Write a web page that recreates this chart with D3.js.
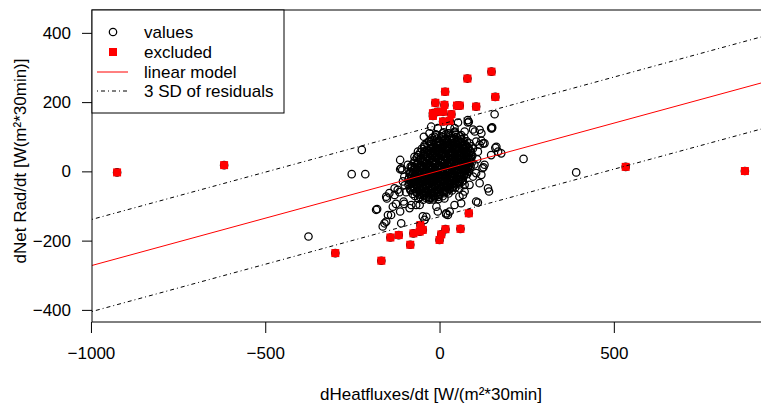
<!DOCTYPE html>
<html>
<head>
<meta charset="utf-8">
<script src="https://cdn.jsdelivr.net/npm/d3@7"></script>
<style>
body { margin: 0; background: #fff; }
svg { display: block; font-family: "Liberation Sans", Arial, Helvetica, sans-serif; }
</style>
</head>
<body>
<script>
// points as [dHeatfluxes/dt, dNetRad/dt]
// dense middle of the cloud
var corePoints = [
  [12,113],[27,110],[44,115],
  [-9,105],[5,101],[18,107],[34,103],[46,106],[59,101],
  [-21,97],[-7,95],[9,98],[20,94],[36,96],[49,99],[62,93],[71,97],
  [-31,87],[-15,90],[-2,86],[12,89],[23,87],[39,90],[51,86],[67,89],[78,87],
  [-37,81],[-25,79],[-9,82],[3,78],[18,81],[30,80],[45,77],[57,82],[73,79],[86,81],
  [-44,71],[-32,74],[-17,70],[-5,73],[11,72],[22,69],[38,74],[50,71],[65,73],[77,70],[92,72],
  [-51,65],[-36,62],[-25,66],[-10,63],[2,65],[17,62],[29,66],[44,64],[56,61],[71,65],[82,63],[96,66],
  [-55,55],[-44,58],[-29,54],[-18,57],[-2,56],[9,53],[25,58],[36,55],[51,57],[62,54],[78,56],[89,58],
  [-61,47],[-46,50],[-35,46],[-20,49],[-9,48],[6,45],[17,50],[32,47],[43,49],[58,46],[69,50],[84,48],[94,46],
  [-65,41],[-54,38],[-39,42],[-28,39],[-13,41],[-2,38],[13,42],[24,40],[39,37],[50,41],[65,39],[76,42],[91,38],
  [-71,31],[-56,34],[-45,30],[-30,33],[-19,31],[-4,34],[7,30],[22,32],[33,35],[48,31],[59,33],[74,30],[85,34],
  [-74,25],[-63,22],[-48,26],[-37,23],[-22,25],[-11,22],[4,26],[15,24],[30,21],[41,25],[56,23],[67,26],[82,22],[92,25],
  [-79,15],[-64,18],[-53,14],[-38,17],[-27,15],[-12,18],[1,14],[14,17],[25,16],[40,13],[51,18],[66,15],[77,17],[89,14],
  [-81,9],[-66,6],[-55,10],[-40,7],[-29,9],[-14,6],[-3,10],[12,8],[23,5],[38,9],[49,7],[64,10],[75,6],[86,8],
  [-83,-1],[-68,2],[-57,-2],[-42,1],[-31,-1],[-16,2],[-5,-3],[10,1],[21,-2],[36,2],[47,0],[62,-3],[73,1],[83,-1],
  [-85,-7],[-70,-10],[-59,-6],[-44,-9],[-33,-7],[-18,-10],[-7,-6],[8,-8],[19,-11],[34,-7],[45,-9],[60,-6],[71,-10],[79,-8],
  [-87,-17],[-72,-14],[-61,-18],[-46,-15],[-35,-16],[-20,-13],[-9,-18],[6,-15],[17,-17],[32,-14],[43,-18],[58,-16],[69,-14],
  [-89,-23],[-74,-26],[-63,-22],[-48,-25],[-37,-23],[-22,-26],[-11,-22],[4,-24],[15,-27],[30,-23],[41,-25],[56,-22],[67,-26],
  [-87,-33],[-76,-30],[-61,-34],[-50,-31],[-35,-33],[-24,-30],[-9,-34],[2,-32],[17,-29],[28,-33],[43,-31],[54,-34],[65,-30],
  [-89,-39],[-74,-42],[-63,-38],[-48,-41],[-37,-39],[-22,-42],[-11,-38],[4,-40],[15,-43],[30,-39],[41,-41],[56,-38],
  [-85,-49],[-74,-46],[-59,-50],[-48,-47],[-33,-49],[-22,-46],[-7,-50],[4,-48],[19,-45],[30,-49],[45,-47],
  [-83,-55],[-68,-58],[-57,-54],[-42,-57],[-31,-55],[-16,-58],[-5,-54],[10,-56],[21,-59],[36,-55],
  [-77,-65],[-66,-62],[-51,-66],[-40,-63],[-25,-65],[-14,-62],[1,-66],[12,-63],[26,-64],
  [-71,-71],[-56,-74],[-45,-70],[-30,-73],[-19,-71],[-4,-74],[9,-72],
  [-61,-79],[-47,-82],[-31,-78],[-19,-81],[-3,-80]
];

// the solid black centre has even more overlapping circles
var centrePoints = [
  [16,92],[29,91],[42,93],[52,90],
  [1,85],[14,83],[26,84],[40,82],[53,85],[64,83],
  [-11,77],[2,75],[15,76],[27,74],[40,77],[53,75],[66,76],[77,74],
  [-20,68],[-7,67],[6,69],[18,66],[31,68],[44,67],[57,69],[70,66],[83,68],
  [-30,60],[-17,59],[-4,61],[8,58],[21,60],[34,59],[47,61],[60,58],[73,60],[88,59],
  [-39,52],[-26,51],[-13,53],[-1,50],[12,52],[25,51],[38,53],[51,50],[64,52],[77,51],[90,53],
  [-47,44],[-34,43],[-21,45],[-8,42],[4,44],[17,43],[30,45],[43,42],[56,44],[69,43],[82,45],[91,43],
  [-54,36],[-41,35],[-28,37],[-15,34],[-3,36],[10,35],[23,37],[36,34],[49,36],[62,35],[75,37],[88,35],
  [-61,28],[-48,27],[-35,29],[-22,26],[-10,28],[3,27],[16,29],[29,26],[42,28],[55,27],[68,29],[81,27],[88,28],
  [-66,20],[-53,19],[-40,21],[-27,18],[-15,20],[-2,19],[11,21],[24,18],[37,20],[50,19],[63,21],[76,18],[85,20],
  [-70,12],[-57,11],[-44,13],[-31,10],[-19,12],[-6,11],[7,13],[20,10],[33,12],[46,11],[59,13],[72,10],[82,12],
  [-74,4],[-61,3],[-48,5],[-35,2],[-23,4],[-10,3],[3,5],[16,2],[29,4],[42,3],[55,5],[68,2],[78,4],
  [-77,-4],[-64,-5],[-51,-3],[-38,-6],[-26,-4],[-13,-5],[0,-3],[13,-6],[26,-4],[39,-5],[52,-3],[65,-6],[74,-4],
  [-80,-12],[-67,-13],[-54,-11],[-41,-14],[-29,-12],[-16,-13],[-3,-11],[10,-14],[23,-12],[36,-13],[49,-11],[62,-14],[70,-12],
  [-81,-20],[-68,-21],[-55,-19],[-42,-22],[-30,-20],[-17,-21],[-4,-19],[9,-22],[22,-20],[35,-21],[48,-19],[62,-22],
  [-82,-28],[-69,-29],[-56,-27],[-43,-30],[-31,-28],[-18,-29],[-5,-27],[8,-30],[21,-28],[34,-29],[47,-27],[58,-30],
  [-80,-36],[-67,-37],[-54,-35],[-41,-38],[-29,-36],[-16,-37],[-3,-35],[10,-38],[23,-36],[36,-37],[49,-35],
  [-77,-44],[-64,-45],[-51,-43],[-38,-46],[-26,-44],[-13,-45],[0,-43],[13,-46],[26,-44],[39,-45],
  [-72,-52],[-59,-53],[-46,-51],[-33,-54],[-21,-52],[-8,-53],[5,-51],[18,-54],[28,-52],
  [-65,-60],[-52,-61],[-39,-59],[-26,-62],[-14,-60],[-1,-61],[14,-59],
  [-55,-68],[-42,-69],[-29,-67],[-16,-70],[-2,-68],
  [-40,-76],[-27,-77],[-14,-75]
];

// scattered circles around the cloud
var outerPoints = [
  [-223,62],[-252,-8],[-213,-8],[-376,-188],[-182,-111],[241,36],[392,-3],[177,52],
  [158,165],[150,124],[160,68],[142,-58],[-179,-109],[-151,-78],[-113,33],[-113,6],
  [126,12],[105,86],[120,88],[84,143],[96,121],[120,110],[62,-92],[24,-126],
  [-139,-126],[-158,-150],[-163,-159],[-113,-116],[-48,-130],[-24,129],[24,110],[62,105],
  [151,127],[163,71],[148,47],[129,81],[-107,4],[-86,-6],[-29,110],[-24,86],
  [53,141],[81,141],[101,115],[139,-49],[96,-15],[86,-39],[110,-90],[72,-39],
  [-153,-73],[-153,-145],[-110,-150],[-125,-94],[-101,-94],[-86,-106],[-67,-97],[-38,-131],
  [-43,-140],[-9,-102],[19,-121],[29,-116],[43,-97],[57,-73],[14,-78],[-29,-82],
  [-120,-53],[-129,-68],[-105,-29],[-134,-102],[-148,-126],[-11,107],[9,110],[43,112],
  [72,115],[125,81],[110,57],[123,9],[57,-49],[67,-68],[-91,19],[-72,42],
  [-62,57],[-43,76],[-29,86],[-96,-60],[-100,-40],[100,20],[105,-5],[108,35],
  [-45,100],[-5,125],[30,125],
  [-110,9],[-83,14],[-101,-15],[-129,-49],[-144,-63],[-115,-60],[-83,-53],[-103,-87],
  [-81,-97],[-57,-97],[-5,-116],[19,-124],[105,-87],[72,-58],[115,-34],[120,-10],
  [168,57],[129,19],[115,77],[115,120],[148,125],[81,148],[43,125],[-14,100]
];

// points outside the 3 SD band (red squares)
var excludedPoints = [
  [-925,-3],[-618,18],[-299,-236],[-167,-258],[-141,-191],[-117,-184],[-84,-212],[-75,-179],
  [-57,-174],[-55,-155],[-48,-169],[0,-198],[5,-182],[17,-167],[60,-166],[84,-121],
  [534,13],[876,1],[149,288],[80,268],[16,230],[160,215],[-12,198],[14,192],
  [50,190],[58,190],[105,187],[-19,168],[-5,172],[10,172],[34,165],[10,144],
  [29,146],[-19,160]
];

var xTicks = [-1000, -500, 0, 500];
var yTicks = [-400, -200, 0, 200, 400];

var modelSlope = 0.2745;
var modelIntercept = 2;
var sdBand = 133;

var legendLabels = ["values", "excluded", "linear model", "3 SD of residuals"];

function drawPlot() {
    var width = 761, height = 406;
    var left = 92, top = 10, right = 770, bottom = 322;

    var svg = d3.select("body").append("svg")
        .attr("width", width)
        .attr("height", height);

    var x = d3.scaleLinear().domain([-997, 948]).range([left, right]);
    var y = d3.scaleLinear().domain([-435, 466]).range([bottom, top]);

    svg.append("clipPath").attr("id", "plotclip")
        .append("rect")
        .attr("x", left).attr("y", top)
        .attr("width", right - left).attr("height", bottom - top);

    var plot = svg.append("g").attr("clip-path", "url(#plotclip)");

    var fmt = function(d) { return d < 0 ? "\u2212" + Math.abs(d) : String(d); };

    // all values as open circles (excluded ones sit under the squares)
    var allPoints = corePoints.concat(centrePoints, outerPoints, excludedPoints);
    plot.append("g")
        .selectAll("circle")
        .data(allPoints)
        .enter().append("circle")
        .attr("cx", function(d) { return x(d[0]); })
        .attr("cy", function(d) { return y(d[1]); })
        .attr("r", 3.7)
        .attr("fill", "none")
        .attr("stroke", "#000")
        .attr("stroke-width", 1.25);

    var sq = 8;
    plot.append("g")
        .selectAll("rect")
        .data(excludedPoints)
        .enter().append("rect")
        .attr("x", function(d) { return x(d[0]) - sq / 2; })
        .attr("y", function(d) { return y(d[1]) - sq / 2; })
        .attr("width", sq)
        .attr("height", sq)
        .attr("fill", "#ff0000");

    // model and 3 SD lines
    var xs = x.domain();
    var lines = [
        {off: 0, color: "#ff0000", dash: null},
        {off: sdBand, color: "#000", dash: "1,3,4,3"},
        {off: -sdBand, color: "#000", dash: "1,3,4,3"}
    ];
    plot.append("g")
        .selectAll("line")
        .data(lines)
        .enter().append("line")
        .attr("x1", x(xs[0]))
        .attr("x2", x(xs[1]))
        .attr("y1", function(d) { return y(modelIntercept + modelSlope * xs[0] + d.off); })
        .attr("y2", function(d) { return y(modelIntercept + modelSlope * xs[1] + d.off); })
        .attr("stroke", function(d) { return d.color; })
        .attr("stroke-dasharray", function(d) { return d.dash; })
        .attr("stroke-width", 1);

    // axes
    var xAxis = svg.append("g")
        .attr("transform", "translate(0," + bottom + ")")
        .call(d3.axisBottom(x).tickValues(xTicks).tickFormat(fmt)
            .tickSize(11).tickSizeOuter(0).tickPadding(14));
    var yAxis = svg.append("g")
        .attr("transform", "translate(" + left + ",0)")
        .call(d3.axisLeft(y).tickValues(yTicks).tickFormat(fmt)
            .tickSize(10).tickSizeOuter(0).tickPadding(11));
    [xAxis, yAxis].forEach(function(a) {
        a.select(".domain").remove();
        a.selectAll("text").attr("font-size", 17).attr("fill", "#000")
            .attr("font-family", "'Liberation Sans', Arial, sans-serif");
        a.selectAll("line").attr("stroke", "#000");
    });

    svg.append("rect")
        .attr("x", left).attr("y", top)
        .attr("width", right - left).attr("height", bottom - top)
        .attr("fill", "none")
        .attr("stroke", "#000")
        .attr("stroke-width", 1);

    svg.append("text")
        .attr("x", (left + right) / 2)
        .attr("y", 400)
        .attr("text-anchor", "middle")
        .attr("font-size", 17)
        .text("dHeatfluxes/dt [W/(m\u00b2*30min]");

    svg.append("text")
        .attr("transform", "translate(26,161) rotate(-90)")
        .attr("text-anchor", "middle")
        .attr("font-size", 17)
        .text("dNet Rad/dt [W(m\u00b2*30min)]");

    // legend
    var lg = svg.append("g");
    lg.append("rect")
        .attr("x", left).attr("y", top)
        .attr("width", 192).attr("height", 103)
        .attr("fill", "#fff")
        .attr("stroke", "#000")
        .attr("stroke-width", 1);

    var rowY = [32, 52, 72, 91];
    lg.selectAll("text")
        .data(legendLabels)
        .enter().append("text")
        .attr("x", 144)
        .attr("y", function(d, i) { return rowY[i]; })
        .attr("dy", "0.35em")
        .attr("font-size", 17)
        .text(function(d) { return d; });

    lg.append("circle")
        .attr("cx", 113).attr("cy", rowY[0]).attr("r", 3.7)
        .attr("fill", "none").attr("stroke", "#000").attr("stroke-width", 1.25);
    lg.append("rect")
        .attr("x", 113 - sq / 2).attr("y", rowY[1] - sq / 2)
        .attr("width", sq).attr("height", sq)
        .attr("fill", "#ff0000");
    lg.append("line")
        .attr("x1", 97).attr("x2", 128)
        .attr("y1", rowY[2]).attr("y2", rowY[2])
        .attr("stroke", "#ff0000");
    lg.append("line")
        .attr("x1", 97).attr("x2", 128)
        .attr("y1", rowY[3]).attr("y2", rowY[3])
        .attr("stroke", "#000")
        .attr("stroke-dasharray", "1,3,4,3");
}

drawPlot();
</script>
</body>
</html>
